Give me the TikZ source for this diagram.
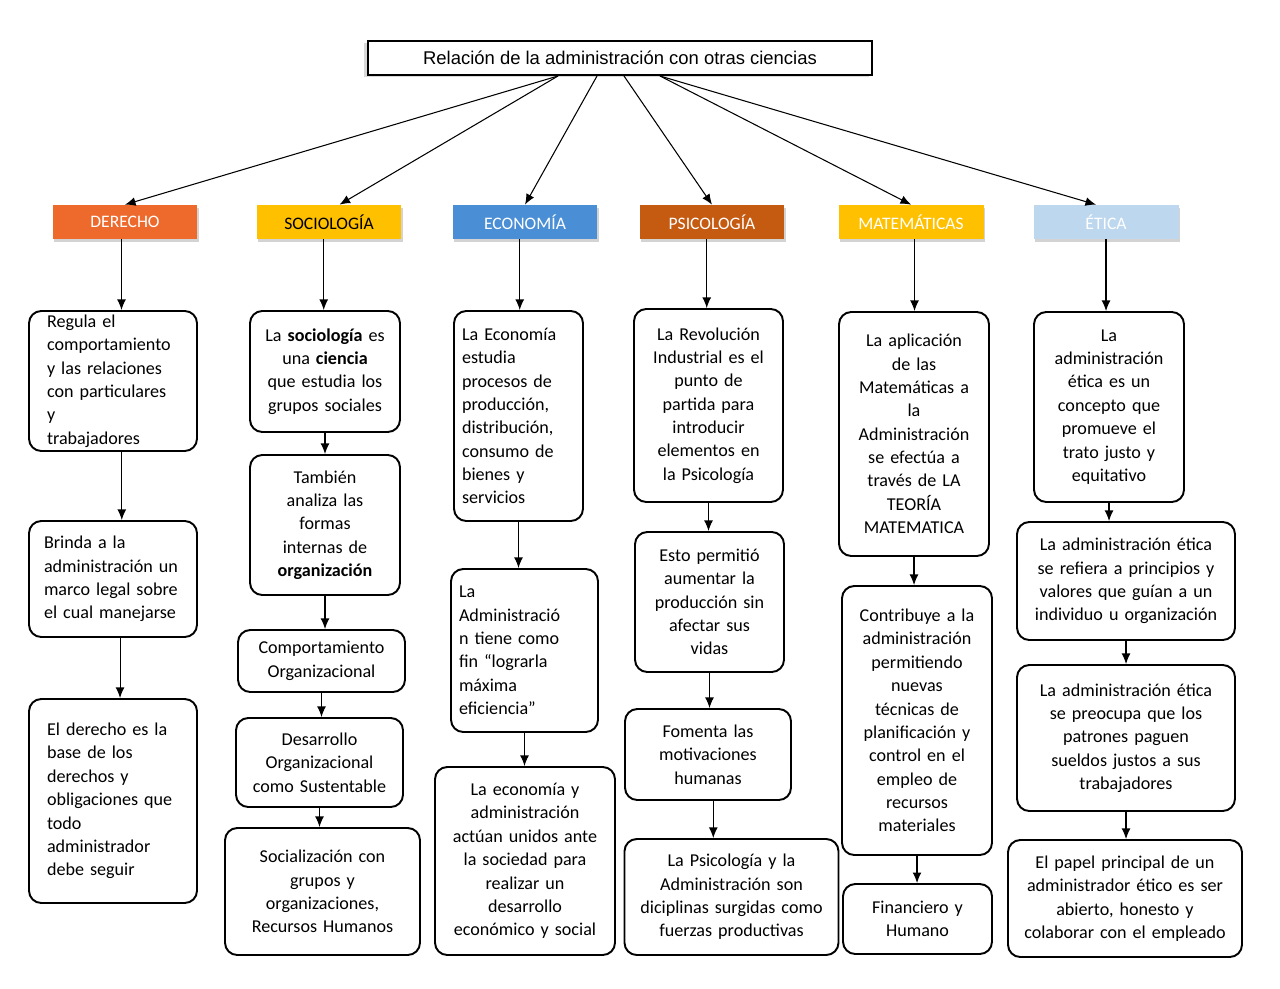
\documentclass[tikz,border=0pt]{standalone}
\usepackage{fontspec}
\setmainfont{Carlito}
\newfontfamily\arialf{Liberation Sans}
\usetikzlibrary{shadows,arrows.meta}
\definecolor{cDer}{HTML}{EE6A2C}
\definecolor{cSoc}{HTML}{FFC000}
\definecolor{cEco}{HTML}{4A8FD6}
\definecolor{cPsi}{HTML}{C55A11}
\definecolor{cMat}{HTML}{FFC000}
\definecolor{cEti}{HTML}{BDD7EE}
\tikzset{
 box/.style={draw=black,line width=1.1pt,rounded corners=7pt,inner sep=2pt,font=\fontsize{10.3}{13.3}\selectfont},
 hdr/.style={minimum width=2.9cm,minimum height=0.68cm,drop shadow={opacity=0.35,shadow xshift=1pt,shadow yshift=-1.5pt},font=\fontsize{10}{11}\selectfont,text=white},
 arr/.style={-{Latex[length=6pt,width=5pt]},line width=0.6pt}
}
\newcommand\mybox[8]{%
 \pgfmathsetlengthmacro\bw{(#4-#2)*0.02cm}%
 \pgfmathsetlengthmacro\bh{(#5-#3)*0.02cm}%
 \pgfmathsetlengthmacro\tw{(#4-#2-#8)*0.02cm}%
 \node[box,minimum width=\bw,minimum height=\bh,text width=\tw,align=#7] (#1) at ({(#2+#4)/2},{(#3+#5)/2}) {#6};}
\newcommand\myvarr[2]{\draw[arr] (#1.south) -- (#1.south |- #2.north);}
\begin{document}
\begin{tikzpicture}[x=0.02cm,y=-0.02cm]
\useasboundingbox (0,0) rectangle (1280,989);
\node[draw,line width=1.1pt,minimum width=10.1cm,minimum height=0.68cm,font=\arialf\fontsize{10.5}{12}\selectfont,fill=white,drop shadow={opacity=0.3,shadow xshift=-2pt,shadow yshift=-1pt}] (T) at (620,58) {Relación de la administración con otras ciencias};
\node[hdr,fill=cDer] (h1) at (125,222) {DERECHO};
\node[hdr,fill=cSoc,text=black] (h2) at (329,222) {SOCIOLOGÍA};
\node[hdr,fill=cEco] (h3) at (525,222) {ECONOMÍA};
\node[hdr,fill=cPsi] (h4) at (712,222) {PSICOLOGÍA};
\node[hdr,fill=cMat] (h5) at (911,222) {MATEMÁTICAS};
\node[hdr,fill=cEti] (h6) at (1106,222) {ÉTICA};
\coordinate (t1) at (558,76); \coordinate (t2) at (597,76);
\coordinate (t3) at (624,76); \coordinate (t4) at (660,76);
\draw[arr] (t1) -- (h1.north);
\draw[arr] (t1) -- ([xshift=6pt]h2.north);
\draw[arr] (t2) -- (h3.north);
\draw[arr] (t3) -- (h4.north);
\draw[arr] (t4) -- (h5.north);
\draw[arr] (t4) -- ([xshift=-0.2cm]h6.north);
% column 1
\mybox{a1}{29}{311}{197}{451}{Regula el\\ comportamiento\\ y las relaciones\\ con particulares y\\ trabajadores}{left}{36}
\mybox{a2}{29}{521}{197}{637}{Brinda a la\\ administración un\\ marco legal sobre\\ el cual manejarse}{left}{30}
\mybox{a3}{29}{699}{197}{903}{El derecho es la\\ base de los\\ derechos y\\ obligaciones que\\ todo\\ administrador\\ debe seguir}{left}{36}
% column 2
\mybox{b1}{250}{311}{400}{432}{La \textbf{sociología} es\\ una \textbf{ciencia}\\ que estudia los\\ grupos sociales}{center}{10}
\mybox{b2}{250}{455}{400}{595}{También\\ analiza las\\ formas\\ internas de\\ \textbf{organización}}{center}{10}
\mybox{b3}{238}{630}{405}{692}{Comportamiento\\ Organizacional}{center}{10}
\mybox{b4}{236}{718}{403}{807}{Desarrollo\\ Organizacional\\ como Sustentable}{center}{10}
\mybox{b5}{225}{828}{420}{955}{Socialización con\\ grupos y\\ organizaciones,\\ Recursos Humanos}{center}{10}
% column 3
\mybox{c1}{454}{311}{583}{521}{La Economía\\ estudia\\ procesos de\\ producción,\\ distribución,\\ consumo de\\ bienes y\\ servicios}{left}{16}
\mybox{c2}{451}{569}{598}{732}{La\\ Administració\\ n tiene como\\ fin “lograrla\\ máxima\\ eficiencia”}{left}{16}
\mybox{c3}{435}{767}{615}{955}{La economía y\\ administración\\ actúan unidos ante\\ la sociedad para\\ realizar un\\ desarrollo\\ económico y social}{center}{8}
% column 4
\mybox{d1}{634}{309}{783}{502}{La Revolución\\ Industrial es el\\ punto de\\ partida para\\ introducir\\ elementos en\\ la Psicología}{center}{8}
\mybox{d2}{635}{532}{784}{672}{Esto permitió\\ aumentar la\\ producción sin\\ afectar sus\\ vidas}{center}{8}
\mybox{d3}{625}{709}{791}{800}{Fomenta las\\ motivaciones\\ humanas}{center}{8}
\mybox{d4}{625}{839}{838}{955}{La Psicología y la\\ Administración son\\ diciplinas surgidas como\\ fuerzas productivas}{center}{6}
% column 5
\mybox{e1}{839}{312}{989}{556}{La aplicación\\ de las\\ Matemáticas a\\ la\\ Administración\\ se efectúa a\\ través de LA\\ TEORÍA\\ MATEMATICA}{center}{8}
\mybox{e2}{842}{586}{992}{855}{Contribuye a la\\ administración\\ permitiendo\\ nuevas\\ técnicas de\\ planificación y\\ control en el\\ empleo de\\ recursos\\ materiales}{center}{8}
\mybox{e3}{843}{884}{992}{954}{Financiero y\\ Humano}{center}{8}
% column 6
\mybox{f1}{1034}{312}{1184}{502}{La\\ administración\\ ética es un\\ concepto que\\ promueve el\\ trato justo y\\ equitativo}{center}{8}
\mybox{f2}{1017}{522}{1235}{640}{La administración ética\\ se refiera a principios y\\ valores que guían a un\\ individuo u organización}{center}{8}
\mybox{f3}{1017}{665}{1235}{811}{La administración ética\\ se preocupa que los\\ patrones paguen\\ sueldos justos a sus\\ trabajadores}{center}{8}
\mybox{f4}{1008}{840}{1242}{957}{El papel principal de un\\ administrador ético es ser\\ abierto, honesto y\\ colaborar con el empleado}{center}{8}
% arrows
\draw[arr] ([xshift=-2pt]h1.south) -- ([xshift=-2pt]h1.south |- a1.north);
\draw[arr] ([xshift=5pt]a1.south) -- ([xshift=5pt]a1.south |- a2.north);
\draw[arr] ([xshift=4pt]a2.south) -- ([xshift=4pt]a2.south |- a3.north);
\draw[arr] ([xshift=-3pt]h2.south) -- ([xshift=-3pt]h2.south |- b1.north);
\myvarr{b1}{b2}\myvarr{b2}{b3}\myvarr{b3}{b4}\myvarr{b4}{b5}
\draw[arr] ([xshift=-3pt]h3.south) -- ([xshift=-3pt]h3.south |- c1.north);
\myvarr{c1}{c2}\myvarr{c2}{c3}
\draw[arr] ([xshift=-3pt]h4.south) -- ([xshift=-3pt]h4.south |- d1.north);
\myvarr{d1}{d2}\myvarr{d2}{d3}
\draw[arr] ([xshift=3pt]d3.south) -- ([xshift=3pt]d3.south |- d4.north);
\draw[arr] ([xshift=2pt]h5.south) -- ([xshift=2pt]h5.south |- e1.north);
\myvarr{e1}{e2}\myvarr{e2}{e3}
\myvarr{h6}{f1}\myvarr{f1}{f2}\myvarr{f2}{f3}\myvarr{f3}{f4}
\end{tikzpicture}
\end{document}
